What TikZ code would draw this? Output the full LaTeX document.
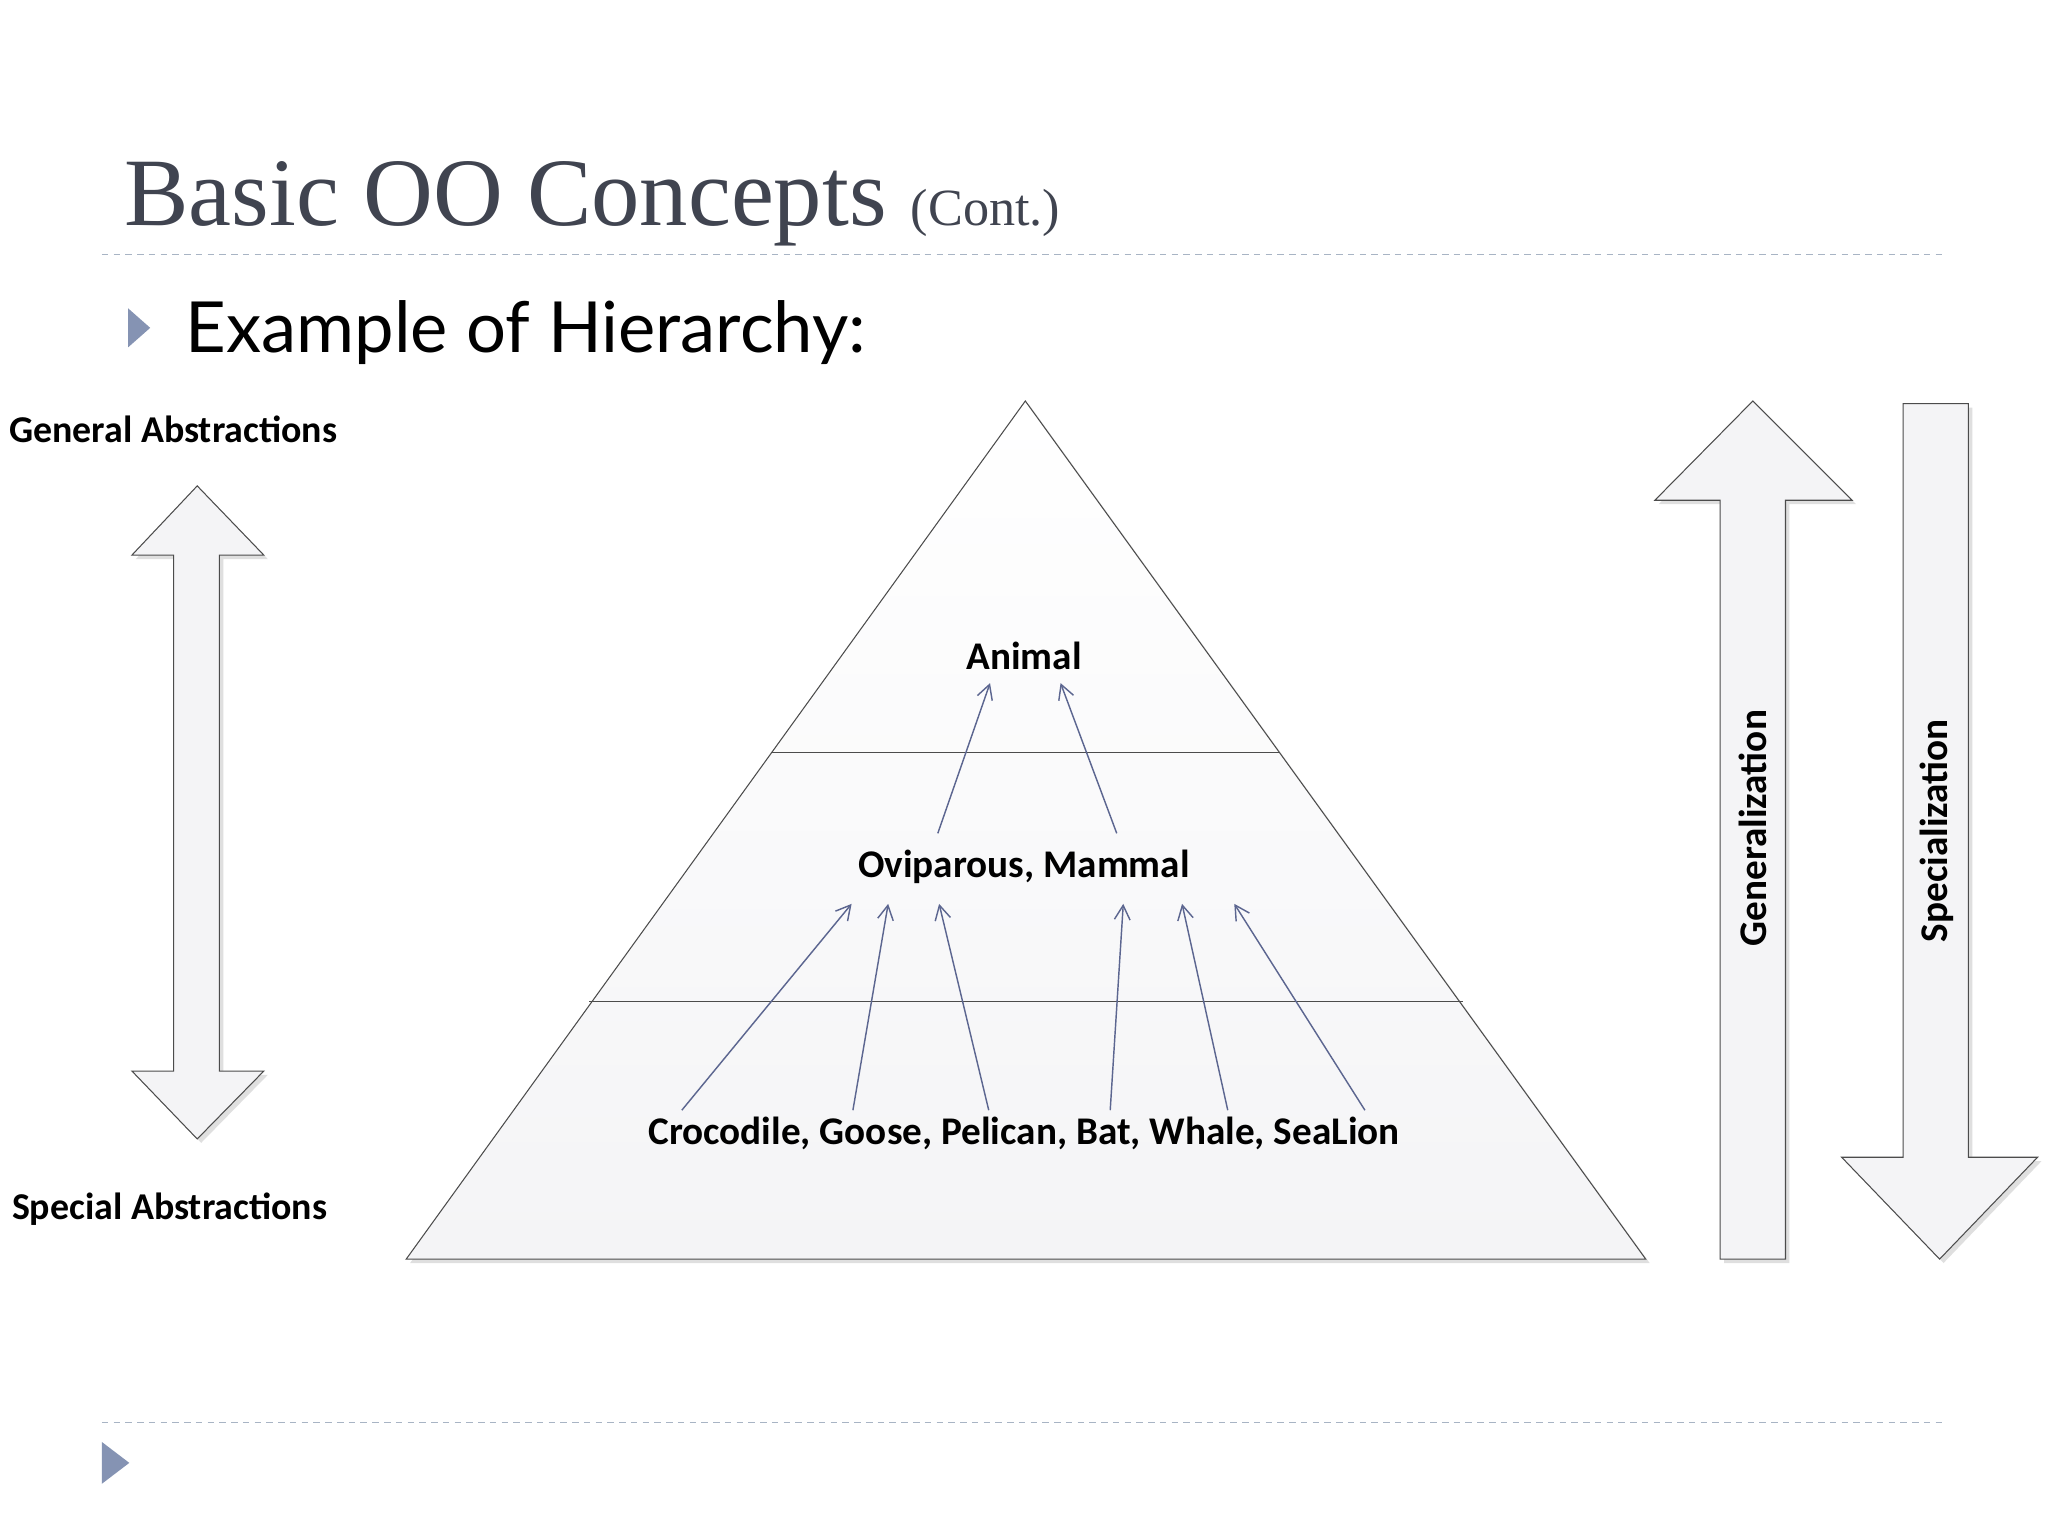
\documentclass[tikz,border=0pt]{standalone}
\usepackage{fontspec}
\setmainfont{Liberation Serif}
\newfontfamily\lab{Carlito}
\newfontfamily\gill{Lato}
\usetikzlibrary{arrows.meta,shadows}
\definecolor{ttl}{HTML}{404450}
\definecolor{dashc}{HTML}{A8B4C4}
\definecolor{bul}{HTML}{8593B3}
\definecolor{arr}{HTML}{5C6690}
\definecolor{fillg}{HTML}{F4F4F6}
\tikzset{
 lbl/.style={font=\lab\bfseries\fontsize{30}{32}\selectfont, inner sep=0pt},
 side/.style={font=\lab\bfseries\fontsize{29}{31}\selectfont, inner sep=0pt, anchor=base west},
 blockshape/.style={draw=black!70, line width=0.8pt, fill=fillg, drop shadow={opacity=0.25, shadow xshift=3pt, shadow yshift=-3pt}},
 hier/.style={draw=arr, line width=1.1pt, -{Straight Barb[length=11pt,width=12pt,line width=1.1pt]}},
 sep/.style={draw=dashc, line width=0.9pt, dash pattern=on 5pt off 4pt},
}
\begin{document}
\begin{tikzpicture}[x=1pt,y=-1pt]
\useasboundingbox (0,0) rectangle (1568,1176);
\fill[white] (0,0) rectangle (1568,1176);
% title
\node[anchor=base west, inner sep=0pt, text=ttl] (title) at (95,173) {\fontsize{74}{80}\selectfont Basic OO Concepts \fontsize{40}{44}\selectfont(Cont.)};
\draw[sep] (78,195) -- (1490,195);
\fill[bul] (98,236) -- (115,251) -- (98,266) -- cycle;
\node[anchor=base west, inner sep=0pt] (ex) at (142,270) {\gill\fontsize{54}{58}\selectfont Example of Hierarchy:};
% left side
\node[side] (gen) at (7,339) {General Abstractions};
\node[side] (spe) at (9,934) {Special Abstractions};
\path[blockshape] (151,372) -- (202,425) -- (168,425) -- (168,820) -- (202,820) -- (151,872) -- (101,820) -- (133,820) -- (133,425) -- (101,425) -- cycle;
% pyramid
\path[blockshape, top color=white, bottom color=fillg] (785,307) -- (1260,964) -- (311,964) -- cycle;
\draw[black!70, line width=0.8pt] (590,576) -- (980,576);
\draw[black!70, line width=0.8pt] (451,767) -- (1120,767);
\node[lbl] (animal) at (784,502) {Animal};
\node[lbl] (ovi) at (784,664) {Oviparous, Mammal};
\node[lbl] (croc) at (784,868) {Crocodile, Goose, Pelican, Bat, Whale, SeaLion};
\coordinate (a1) at (758,523); \coordinate (a2) at (812,523);
\coordinate (o1) at (718,638); \coordinate (o2) at (855,638);
\coordinate (p1) at (652,692); \coordinate (p2) at (680,692); \coordinate (p3) at (719,692);
\coordinate (p4) at (860,692); \coordinate (p5) at (905,692); \coordinate (p6) at (945,692);
\coordinate (c1) at (522,850); \coordinate (c2) at (653,850); \coordinate (c3) at (757,850);
\coordinate (c4) at (850,850); \coordinate (c5) at (940,850); \coordinate (c6) at (1045,850);
\draw[hier] (o1) -- (a1); \draw[hier] (o2) -- (a2);
\draw[hier] (c1) -- (p1); \draw[hier] (c2) -- (p2); \draw[hier] (c3) -- (p3);
\draw[hier] (c4) -- (p4); \draw[hier] (c5) -- (p5); \draw[hier] (c6) -- (p6);
% right arrows
\path[blockshape] (1342,307) -- (1418,383) -- (1367,383) -- (1367,964) -- (1317,964) -- (1317,383) -- (1267,383) -- cycle;
\node[lbl, rotate=90] (genz) at (1342,634) {Generalization};
\path[blockshape] (1457,309) -- (1507,309) -- (1507,886) -- (1560,886) -- (1485,964) -- (1410,886) -- (1457,886) -- cycle;
\node[lbl, rotate=90] (spez) at (1483,636) {Specialization};
% footer
\draw[sep] (78,1089) -- (1490,1089);
\fill[bul] (78,1104) -- (99,1120) -- (78,1136) -- cycle;
\end{tikzpicture}
\end{document}
